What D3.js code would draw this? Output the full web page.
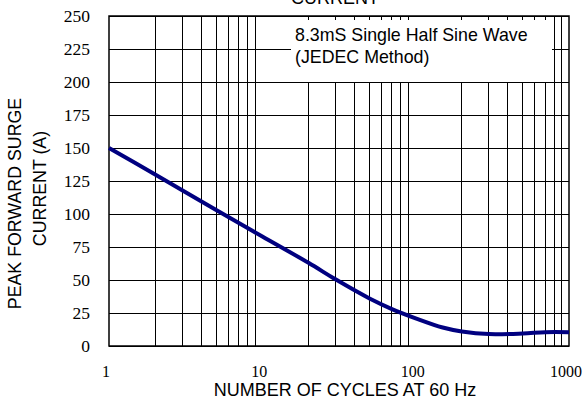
<!DOCTYPE html>
<html><head><meta charset="utf-8">
<script src="https://cdn.jsdelivr.net/npm/d3@7"></script>
<style>body{margin:0;background:#fff}svg{display:block}</style>
</head><body>
<svg id="c" width="587" height="406"></svg>
<script>
const cycles = [1, 2, 3, 5, 10, 20, 30, 50, 70, 100, 150, 200, 300, 500, 700, 1000];
const current = [150, 130, 118, 103, 83, 63, 50.5, 36, 28, 21, 14, 11, 9, 9.5, 10.5, 10.5];
const yTicks = [0, 25, 50, 75, 100, 125, 150, 175, 200, 225, 250];
const xTicks = [1, 10, 100, 1000];
const noteLines = ["8.3mS Single Half Sine Wave", "(JEDEC Method)"];

const SERIF = "'Liberation Serif'";
const SANS = "'Liberation Sans'";

const svg = d3.select("#c");
const L = 109, R = 569, T = 16, B = 346;
const x = d3.scaleLog().domain([1, 1000]).range([L, R]);
const y = d3.scaleLinear().domain([0, 250]).range([B, T]);

const vlines = [];
for (let d = 1; d < 1000; d *= 10) for (let k = 2; k <= 9; k++) vlines.push(d * k);
svg.append("g").selectAll("line").data(vlines).join("line")
  .attr("x1", d => x(d)).attr("x2", d => x(d)).attr("y1", T).attr("y2", B)
  .attr("stroke", "#000").attr("stroke-width", 1).attr("shape-rendering", "crispEdges");
svg.append("g").selectAll("line").data(yTicks).join("line")
  .attr("x1", L).attr("x2", R).attr("y1", d => y(d)).attr("y2", d => y(d))
  .attr("stroke", "#000").attr("stroke-width", 1).attr("shape-rendering", "crispEdges");

svg.append("rect").attr("x", 291).attr("y", 20).attr("width", 261).attr("height", 62).attr("fill", "#fff");
svg.append("g").selectAll("text").data(noteLines).join("text")
  .style("font-family", SANS).style("font-size", "17.8px")
  .attr("x", 295).attr("y", (d, i) => 41 + i * 22)
  .text(d => d);

svg.append("rect").attr("x", L).attr("y", T).attr("width", R - L).attr("height", B - T)
  .attr("fill", "none").attr("stroke", "#000").attr("stroke-width", 1.5);

const line = d3.line().x((d, i) => x(cycles[i])).y(d => y(d)).curve(d3.curveCatmullRom.alpha(0.5));
svg.append("path").datum(current).attr("d", line)
  .attr("fill", "none").attr("stroke", "#000080").attr("stroke-width", 4);

svg.append("g").selectAll("text").data(yTicks).join("text")
  .style("font-family", SERIF).style("font-size", "17.5px")
  .attr("x", L - 19).attr("y", d => y(d)).attr("dy", "0.34em").attr("text-anchor", "end")
  .text(d => d);
svg.append("g").selectAll("text").data(xTicks).join("text")
  .style("font-family", SERIF).style("font-size", "16px")
  .attr("x", d => x(d) - 3).attr("y", B + 31).attr("text-anchor", "middle")
  .text(d3.format("d"));

svg.append("text").style("font-family", SANS).style("font-size", "18px")
  .attr("x", 345).attr("y", 396).attr("text-anchor", "middle").text("NUMBER OF CYCLES AT 60 Hz");
svg.append("text").style("font-family", SANS).style("font-size", "18px")
  .attr("x", 335).attr("y", 4).attr("text-anchor", "middle").text("CURRENT");
svg.append("text").style("font-family", SANS).style("font-size", "17.8px")
  .attr("transform", "translate(21,203.5) rotate(-90)").attr("text-anchor", "middle").text("PEAK FORWARD SURGE");
svg.append("text").style("font-family", SANS).style("font-size", "17.8px")
  .attr("transform", "translate(46,188.5) rotate(-90)").attr("text-anchor", "middle").text("CURRENT (A)");
</script>
</body></html>
